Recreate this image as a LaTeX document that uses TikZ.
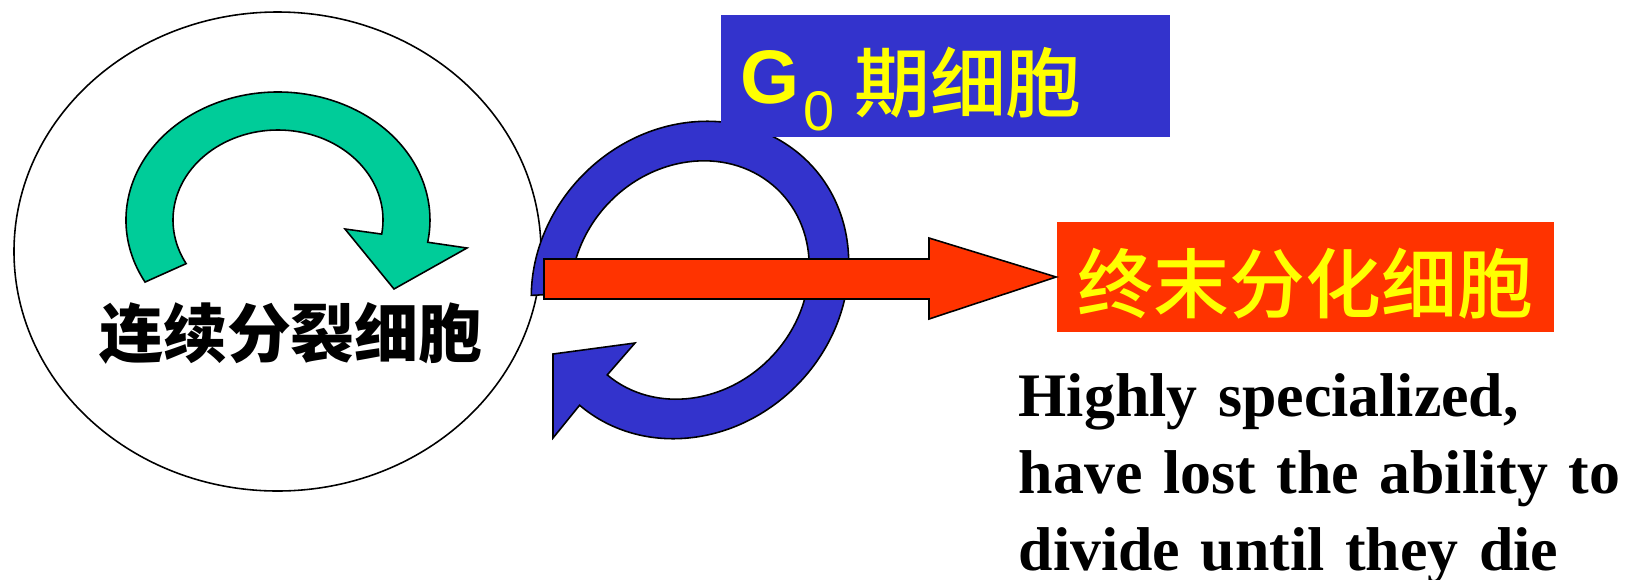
\documentclass[tikz,border=0pt]{standalone}
\usepackage{fontspec}
\setmainfont{Liberation Serif}
\newfontfamily\arial{Liberation Sans}
\newfontfamily\cjk{Noto Sans CJK SC}
\newfontfamily\cjkm{Noto Sans CJK SC}[UprightFont=* Medium]
\usetikzlibrary{calc}
\definecolor{cycgreen}{HTML}{00CC99}
\definecolor{gblue}{HTML}{3333CC}
\definecolor{tred}{HTML}{FF3300}
\definecolor{tyellow}{HTML}{FFFF00}
\begin{document}
\begin{tikzpicture}[x=0.1mm, y=-0.1mm, line width=0.45pt,
  blk/.style={draw=black, line join=miter},
  ybox/.style={text=tyellow, inner ysep=0}]
\useasboundingbox (0,0) rectangle (1628,579);
\draw (277.5,251.5) ellipse [x radius=263.5, y radius=239.5];
% 循环の矢印
\coordinate (gc) at (278,220);
\draw[blk, fill=cycgreen] ($(gc)+(151:152 and 128)$) arc[start angle=151, end angle=370, x radius=152, y radius=128]
  -- (467,248) -- (394,289) -- (345,229)
  -- ($(gc)+(9:105 and 90)$) arc[start angle=9, end angle=-209, x radius=105, y radius=90] -- cycle;
\node (cyctext) [anchor=base, inner sep=0, font=\cjk\bfseries\fontsize{18.2}{20}\selectfont] at (291,357) {连续分裂细胞};
% G0
\coordinate (bb1) at (553,438);
\coordinate (btip) at (553,354);
\coordinate (bb2) at (635,343);
\begin{scope}[shift={(690,280)}, rotate=45]
\draw[blk, fill=gblue] (222.5:167 and 150) arc[start angle=222.5, end angle=536, x radius=167, y radius=150]
  -- (bb1) -- (btip) -- (bb2)
  -- (535.6:126 and 112) arc[start angle=535.6, end angle=222, x radius=126, y radius=112] -- cycle;
\end{scope}
\node (term) [ybox, fill=tred, minimum width=49.7mm, minimum height=11mm, inner xsep=0, text height=7.5mm, text depth=0.5mm, font=\cjkm\fontsize{21.6}{24}\selectfont] at (1305.5,277) {终末分化细胞};
\coordinate (rs) at (544,279);
\draw[blk, fill=tred] ($(rs)+(0,-20)$) -- (929,259) -- (929,238) -- (term.west) -- (929,319) -- (929,299) -- ($(rs)+(0,20)$) -- cycle;
\node (g0) [ybox, fill=gblue, minimum width=44.9mm, minimum height=12.2mm, inner xsep=1.9mm, text width=41.1mm, align=left, text height=7.6mm, text depth=2.2mm] at (945.5,76)
  {{\arial\bfseries\fontsize{21.6}{24}\selectfont G}\kern0.4mm\raisebox{-2.7mm}{\arial\fontsize{15.9}{18}\selectfont 0}\kern2mm\raisebox{-0.8mm}{\cjkm\fontsize{21.6}{24}\selectfont 期细胞}};
\node (note) [anchor=north west, inner sep=0, text width=61mm, align=left, font=\bfseries\fontsize{17.6}{21.9}\selectfont] at (1018,373)
  {Highly specialized,\\ have lost the ability to\\ divide until they die};
\end{tikzpicture}
\end{document}
